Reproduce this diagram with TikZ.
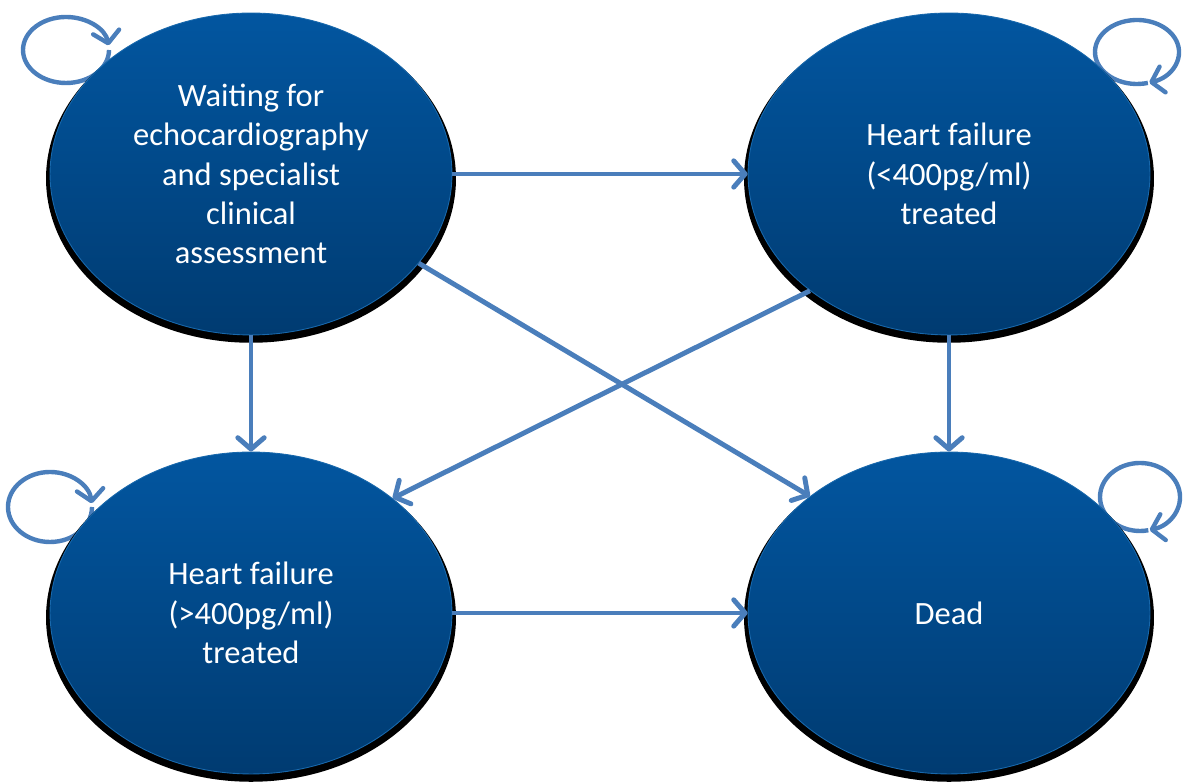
\documentclass[tikz,border=0pt]{standalone}
\usepackage{fontspec}
\setmainfont{Carlito}
\usepackage{tikz}
\usetikzlibrary{arrows.meta,shapes.geometric,shadows,backgrounds}

\definecolor{stateTop}{RGB}{2,86,160}
\definecolor{stateBot}{RGB}{0,59,113}
\definecolor{stateRim}{RGB}{24,104,172}
\definecolor{flowBlue}{RGB}{74,126,187}

\tikzset{
  state/.style={ellipse, inner sep=0pt, minimum width=8.04cm, minimum height=6.44cm,
    top color=stateTop, bottom color=stateBot, draw=stateRim, line width=0.5pt,
    drop shadow={shadow xshift=0cm, shadow yshift=-0.09cm, shadow scale=1.02, fill=black, opacity=1},
    text=white, align=center, font=\fontsize{18.5}{22.4}\selectfont},
  flow/.style={draw=flowBlue, line width=2.8pt,
    -{Straight Barb[length=6.5pt,width=15pt,round]}},
  selfloop/.style={flow, line width=2.5pt}
}

\begin{document}
\begin{tikzpicture}[x=0.02cm,y=0.02cm]
  \useasboundingbox (0,0) rectangle (1186,783);

  % states
  \node[state] (wait) at (251,609) {Waiting for\\echocardiography\\and specialist\\clinical\\assessment};
  \node[state] (hflow) at (949,609) {Heart failure\\(<400pg/ml)\\treated};
  \node[state] (hfhigh) at (251,170) {Heart failure\\(>400pg/ml)\\treated};
  \node[state] (dead) at (949,170) {Dead};

  % transitions
  \draw[flow] (wait.east) -- (hflow.west);
  \draw[flow] (wait.south) -- (hfhigh.north);
  \draw[flow] (hflow.south) -- (dead.north);
  \draw[flow] (hfhigh.east) -- (dead.west);
  \draw[flow] (wait.-28) -- (dead.140);
  \draw[flow] (hflow.220) -- (hfhigh.39);

  % staying in the same state
  \begin{scope}[on background layer]
    \draw[selfloop] ([shift={(-185,124)}]wait.center) ++(43,0)
      arc[start angle=360, end angle=8, x radius=43, y radius=33];
    \draw[selfloop] ([shift={(188,122)}]hflow.center) ++(-75:42 and 32)
      arc[start angle=-75+360, end angle=-73, x radius=42, y radius=32];
    \draw[selfloop] ([shift={(-201,106)}]hfhigh.center) ++(42,0)
      arc[start angle=360, end angle=6, x radius=42, y radius=35];
    \draw[selfloop] ([shift={(191,116)}]dead.center) ++(-78:40 and 34)
      arc[start angle=-78+360, end angle=-76, x radius=40, y radius=34];
  \end{scope}
\end{tikzpicture}
\end{document}
